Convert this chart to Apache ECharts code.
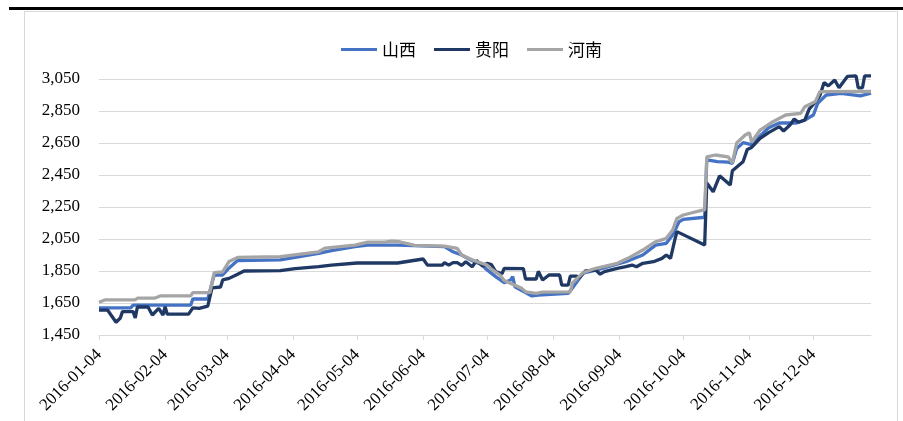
<!DOCTYPE html>
<html>
<head>
<meta charset="utf-8">
<style>
html,body{margin:0;padding:0;background:#fff;}
#frame{position:absolute;left:24px;top:11px;width:874px;height:420px;border:1px solid #d9d9d9;box-sizing:border-box;}
#topbar{position:absolute;left:9px;top:7px;width:894px;height:3px;background:#000;}
#chart{position:absolute;left:0;top:0;width:903px;height:421px;}
</style>
<script src="https://cdn.jsdelivr.net/npm/echarts@6/dist/echarts.min.js"></script>
</head>
<body>
<div id="topbar"></div>
<div id="frame"></div>
<div id="chart"></div>
<script>
const seriesNames = ['山西', '贵阳', '河南'];
const tickLabels = ['2016-01-04','2016-02-04','2016-03-04','2016-04-04','2016-05-04','2016-06-04','2016-07-04','2016-08-04','2016-09-04','2016-10-04','2016-11-04','2016-12-04'];
const yTicks = [1450,1650,1850,2050,2250,2450,2650,2850,3050];

const shanxiDates = ['2016-01-04','2016-01-19','2016-01-20','2016-02-16','2016-02-17','2016-02-24','2016-02-27','2016-03-02','2016-03-05','2016-03-09','2016-03-29','2016-04-16','2016-04-22','2016-05-03','2016-05-09','2016-05-23','2016-06-14','2016-06-18','2016-06-22','2016-06-28','2016-07-02','2016-07-03','2016-07-08','2016-07-12','2016-07-15','2016-07-16','2016-07-17','2016-07-25','2016-07-28','2016-08-11','2016-08-13','2016-08-18','2016-08-24','2016-09-07','2016-09-15','2016-09-21','2016-09-26','2016-09-29','2016-10-02','2016-10-04','2016-10-14','2016-10-15','2016-10-20','2016-10-25','2016-10-27','2016-10-29','2016-11-01','2016-11-05','2016-11-09','2016-11-13','2016-11-18','2016-11-26','2016-11-30','2016-12-04','2016-12-06','2016-12-10','2016-12-17','2016-12-26','2016-12-31'];
const shanxiValues = [1619,1620,1637,1637,1675,1675,1825,1825,1869,1915,1920,1960,1977,2002,2012,2012,2002,1970,1950,1908,1887,1868,1815,1777,1794,1815,1752,1694,1700,1710,1744,1836,1856,1908,1950,2012,2023,2075,2158,2173,2186,2544,2533,2530,2523,2615,2652,2640,2694,2745,2775,2775,2794,2825,2898,2950,2960,2945,2962];

const guiyangDates = ['2016-01-04','2016-01-08','2016-01-12','2016-01-14','2016-01-15','2016-01-20','2016-01-21','2016-01-22','2016-01-27','2016-01-29','2016-02-01','2016-02-03','2016-02-04','2016-02-05','2016-02-15','2016-02-17','2016-02-20','2016-02-24','2016-02-26','2016-03-01','2016-03-02','2016-03-05','2016-03-09','2016-03-12','2016-03-29','2016-04-05','2016-04-16','2016-04-22','2016-05-04','2016-05-23','2016-06-04','2016-06-06','2016-06-13','2016-06-14','2016-06-16','2016-06-18','2016-06-20','2016-06-22','2016-06-24','2016-06-27','2016-06-29','2016-07-02','2016-07-04','2016-07-06','2016-07-08','2016-07-11','2016-07-12','2016-07-21','2016-07-22','2016-07-27','2016-07-28','2016-07-30','2016-08-02','2016-08-07','2016-08-08','2016-08-11','2016-08-12','2016-08-15','2016-08-16','2016-08-19','2016-08-24','2016-08-26','2016-08-28','2016-09-03','2016-09-07','2016-09-10','2016-09-12','2016-09-15','2016-09-20','2016-09-24','2016-09-26','2016-09-28','2016-09-30','2016-10-01','2016-10-14','2016-10-15','2016-10-18','2016-10-21','2016-10-26','2016-10-27','2016-11-01','2016-11-03','2016-11-05','2016-11-09','2016-11-13','2016-11-18','2016-11-20','2016-11-23','2016-11-25','2016-11-27','2016-11-30','2016-12-02','2016-12-05','2016-12-07','2016-12-09','2016-12-11','2016-12-14','2016-12-16','2016-12-20','2016-12-24','2016-12-25','2016-12-27','2016-12-28','2016-12-31'];
const guiyangValues = [1606,1606,1530,1556,1596,1596,1556,1625,1625,1575,1617,1575,1627,1580,1580,1620,1617,1631,1745,1750,1794,1804,1830,1850,1852,1865,1877,1887,1900,1900,1925,1887,1887,1902,1887,1902,1902,1885,1908,1877,1915,1880,1898,1890,1846,1833,1867,1865,1800,1800,1848,1794,1825,1825,1762,1762,1818,1818,1806,1850,1856,1830,1846,1867,1877,1887,1877,1898,1908,1929,1950,1929,2044,2096,2012,2400,2345,2445,2387,2476,2533,2610,2622,2679,2715,2752,2725,2762,2800,2780,2794,2862,2908,2945,3028,3007,3044,2995,3067,3069,2995,2995,3069,3069];

const henanDates = ['2016-01-04','2016-01-07','2016-01-21','2016-01-22','2016-01-30','2016-02-02','2016-02-16','2016-02-17','2016-02-25','2016-02-27','2016-03-02','2016-03-05','2016-03-09','2016-03-29','2016-04-16','2016-04-19','2016-05-03','2016-05-09','2016-05-17','2016-05-20','2016-05-23','2016-05-31','2016-06-14','2016-06-20','2016-06-22','2016-06-28','2016-07-04','2016-07-06','2016-07-10','2016-07-12','2016-07-20','2016-07-22','2016-07-27','2016-07-30','2016-08-12','2016-08-13','2016-08-18','2016-08-24','2016-09-03','2016-09-08','2016-09-15','2016-09-21','2016-09-26','2016-09-29','2016-10-01','2016-10-04','2016-10-13','2016-10-14','2016-10-15','2016-10-19','2016-10-25','2016-10-27','2016-10-29','2016-11-02','2016-11-04','2016-11-05','2016-11-09','2016-11-15','2016-11-21','2016-11-28','2016-11-30','2016-12-05','2016-12-07','2016-12-31'];
const henanValues = [1655,1670,1670,1680,1680,1695,1695,1715,1715,1840,1845,1910,1935,1940,1970,1993,2012,2030,2030,2037,2035,2010,2005,1992,1950,1914,1887,1862,1825,1790,1743,1720,1710,1718,1720,1775,1840,1867,1898,1929,1981,2033,2054,2106,2179,2200,2231,2231,2564,2575,2564,2525,2650,2700,2714,2655,2731,2783,2825,2835,2877,2910,2971,2972];

function toTime(s){ const p = s.split('-'); return Date.UTC(+p[0], +p[1]-1, +p[2]); }
function pairs(d, v){ return d.map((x,i)=>[toTime(x), v[i]]); }
function fmtNum(v){ return String(v).replace(/\B(?=(\d{3})+(?!\d))/g, ','); }
function pad(n){ return n<10 ? '0'+n : ''+n; }
function fmtDate(t){ const d = new Date(t); return d.getUTCFullYear()+'-'+pad(d.getUTCMonth()+1)+'-'+pad(d.getUTCDate()); }

const tickTimes = tickLabels.map(toTime);
const colors = ['#4472C4', '#1F3864', '#A5A5A5'];

const chart = echarts.init(document.getElementById('chart'), null, {renderer:'canvas'});
chart.setOption({
  animation: false,
  color: colors,
  legend: {
    top: 36,
    left: 336,
    itemWidth: 36,
    itemHeight: 3,
    itemGap: 18,
    icon: 'rect',
    textStyle: {fontFamily: '"Noto Sans CJK SC"', fontSize: 17, color: '#000'},
    data: seriesNames
  },
  grid: {left: 99, right: 32, top: 79, bottom: 86, containLabel: false},
  xAxis: {
    type: 'value',
    min: toTime('2016-01-04'),
    max: toTime('2016-12-31'),
    splitLine: {show: false},
    axisLine: {lineStyle: {color: '#d9d9d9'}},
    axisTick: {show: true, length: 5, lineStyle: {color: '#d9d9d9'}, customValues: tickTimes},
    axisLabel: {
      customValues: tickTimes,
      rotate: 45,
      formatter: function(v){ return fmtDate(v); },
      fontFamily: '"Liberation Serif"',
      fontSize: 17,
      color: '#000',
      margin: 17
    }
  },
  yAxis: {
    type: 'value',
    min: 1450,
    max: 3050,
    interval: 200,
    axisLine: {show: false},
    axisTick: {show: false},
    splitLine: {lineStyle: {color: '#d9d9d9', width: 1}},
    axisLabel: {
      formatter: function(v){ return fmtNum(v); },
      fontFamily: '"Liberation Serif"',
      fontSize: 17,
      color: '#000',
      margin: 19
    }
  },
  series: [
    {name: seriesNames[0], type: 'line', data: pairs(shanxiDates, shanxiValues), showSymbol: false, clip: false, lineStyle: {width: 3.3, color: colors[0]}},
    {name: seriesNames[1], type: 'line', data: pairs(guiyangDates, guiyangValues), showSymbol: false, clip: false, lineStyle: {width: 3.3, color: colors[1]}},
    {name: seriesNames[2], type: 'line', data: pairs(henanDates, henanValues), showSymbol: false, clip: false, lineStyle: {width: 3.3, color: colors[2]}}
  ]
});
</script>
</body>
</html>
